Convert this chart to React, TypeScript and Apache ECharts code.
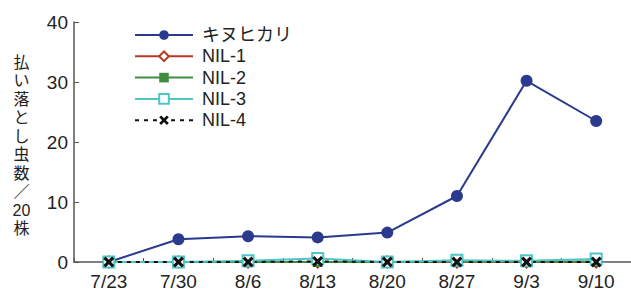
import React, { useEffect, useRef } from "react";
import * as echarts from "echarts";

const categories = ["7/23", "7/30", "8/6", "8/13", "8/20", "8/27", "9/3", "9/10"];
const kinuhikari = [0, 3.8, 4.3, 4.1, 4.9, 11.0, 30.2, 23.5];
const nil1 = [0, 0, 0, 0, 0, 0, 0, 0];
const nil2 = [0, 0, 0, 0, 0, 0.1, 0.1, 0.1];
const nil3 = [0, 0, 0.2, 0.6, 0, 0.3, 0.2, 0.5];
const nil4 = [0, 0, 0, 0.1, 0, 0, 0, 0];
const yTicks = [0, 10, 20, 30, 40];
const seriesNames = ["キヌヒカリ", "NIL-1", "NIL-2", "NIL-3", "NIL-4"];
const yTitleChars = ["払", "い", "落", "と", "し", "虫", "数", "／", "20", "株"];

const crossPath =
  "path://M2,0 L5,3 L8,0 L10,2 L7,5 L10,8 L8,10 L5,7 L2,10 L0,8 L3,5 L0,2 Z";

export default function App() {
  const ref = useRef<HTMLDivElement>(null);
  useEffect(() => {
    if (!ref.current) return;
    const chart = echarts.init(ref.current, null, { renderer: "svg" });
    const sans = "'Liberation Sans', Arial, sans-serif";
    chart.setOption({
      animation: false,
      backgroundColor: "#fff",
      grid: { left: 74, right: 0, top: 22, bottom: 29, containLabel: false },
      legend: {
        orient: "vertical",
        left: 129,
        top: 21,
        itemWidth: 58,
        itemHeight: 12,
        itemGap: 3.3,
        data: seriesNames,
        textStyle: {
          fontSize: 18,
          lineHeight: 18,
          color: "#222",
          fontFamily: "'Liberation Sans', 'Noto Sans CJK JP', sans-serif",
          padding: [0, 0, 0, 4],
        },
      },
      graphic: yTitleChars.map((ch, i) => ({
        type: "text",
        x: 21.5,
        y: 62 + i * 18.5,
        style: {
          text: ch,
          fontSize: 16,
          fill: "#222",
          align: "center",
          verticalAlign: "middle",
          fontFamily: "'Liberation Sans', 'Noto Sans CJK JP', sans-serif",
        },
      })),
      xAxis: {
        type: "category",
        data: categories,
        boundaryGap: true,
        axisLine: { lineStyle: { color: "#555", width: 1.5 } },
        axisTick: { show: true, inside: true, length: 4, interval: 0, lineStyle: { color: "#555" } },
        axisLabel: { fontSize: 19, color: "#222", fontFamily: sans, margin: 10, interval: 0 },
      },
      yAxis: {
        type: "value",
        min: yTicks[0],
        max: yTicks[yTicks.length - 1],
        interval: 10,
        splitLine: { show: false },
        axisLine: { show: true, lineStyle: { color: "#555", width: 1.5 } },
        axisTick: { show: true, inside: true, length: 5, lineStyle: { color: "#555" } },
        axisLabel: { fontSize: 19, color: "#222", fontFamily: sans, margin: 6 },
      },
      series: [
        {
          name: seriesNames[0],
          type: "line",
          data: kinuhikari,
          symbol: "circle",
          symbolSize: 12,
          lineStyle: { color: "#2a3a8f", width: 2 },
          itemStyle: { color: "#2a3a8f" },
        },
        {
          name: seriesNames[1],
          type: "line",
          data: nil1,
          symbol: "diamond",
          symbolSize: 11,
          lineStyle: { color: "#b53a22", width: 2 },
          itemStyle: { color: "#fff", borderColor: "#b53a22", borderWidth: 2 },
        },
        {
          name: seriesNames[2],
          type: "line",
          data: nil2,
          symbol: "rect",
          symbolSize: 10,
          lineStyle: { color: "#3e8e3e", width: 2 },
          itemStyle: { color: "#3e8e3e" },
        },
        {
          name: seriesNames[3],
          type: "line",
          data: nil3,
          symbol: "rect",
          symbolSize: 11,
          lineStyle: { color: "#4fc6c6", width: 2 },
          itemStyle: { color: "#fff", borderColor: "#4fc6c6", borderWidth: 2 },
        },
        {
          name: seriesNames[4],
          type: "line",
          data: nil4,
          symbol: crossPath,
          symbolSize: 11,
          lineStyle: { color: "#111", width: 2, type: [4, 5] },
          itemStyle: { color: "#111" },
        },
      ],
    });
    return () => chart.dispose();
  }, []);
  return <div ref={ref} style={{ width: 631, height: 291, position: "absolute", left: 0, top: 0 }} />;
}
